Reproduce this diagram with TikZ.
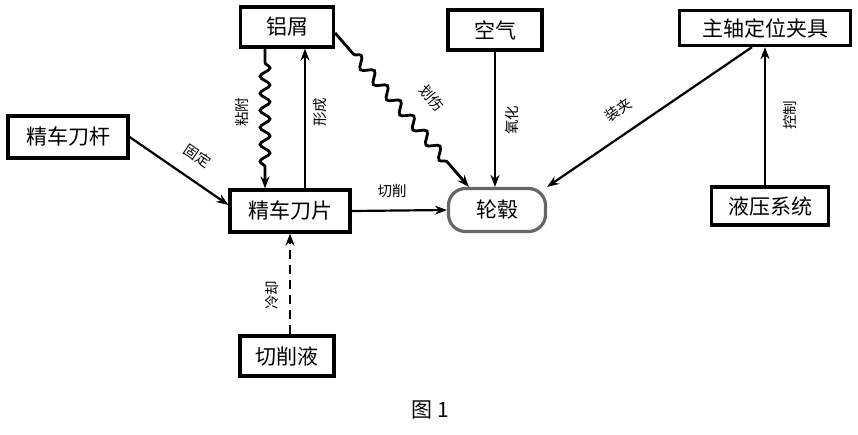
\documentclass[tikz,border=0pt]{standalone}
\usepackage{fontspec}
\newfontfamily\cjk{Noto Sans CJK SC}
\usetikzlibrary{arrows.meta,decorations.pathmorphing}
\begin{document}
\begin{tikzpicture}[x=1pt,y=-1pt,
  box/.style={draw=black,line width=3.2pt,inner sep=0pt,font=\cjk\fontsize{21}{24}\selectfont},
  lab/.style={inner sep=0pt,font=\cjk\fontsize{14.5}{16}\selectfont},
  arr/.style={line width=2.2pt,-{Stealth[length=12pt,width=9pt]}},
  wavy/.style={line width=2.8pt,-{Stealth[length=12pt,width=9pt]},decorate,
     decoration={snake,amplitude=5pt,segment length=17pt,pre length=14pt,post length=14pt}}]
\useasboundingbox (0,0) rectangle (858,434);
\node[box,minimum width=93pt,minimum height=40pt] (lx) at (287,27) {铝屑};
\node[box,minimum width=94pt,minimum height=40pt] (air) at (495,30) {空气};
\node[box,minimum width=171pt,minimum height=35pt] (main) at (765,28) {主轴定位夹具};
\node[box,minimum width=120pt,minimum height=42pt] (bar) at (68,137) {精车刀杆};
\node[box,minimum width=120pt,minimum height=42pt] (blade) at (290,211) {精车刀片};
\node[box,draw=black!60,rounded corners=17pt,minimum width=97pt,minimum height=43pt] (hub) at (497,210) {轮毂};
\node[box,minimum width=117pt,minimum height=38pt] (hyd) at (770,206) {液压系统};
\node[box,minimum width=94pt,minimum height=40pt] (cool) at (287,356) {切削液};
\node[font=\cjk\fontsize{21}{24}\selectfont] (cap) at (430,410) {图 1};

\draw[wavy] ([xshift=-22pt]lx.south) -- ([xshift=-22pt]lx.south |- blade.north);
\draw[arr] ([xshift=15pt]blade.north) -- ([xshift=15pt]blade.north |- lx.south);
\draw[wavy,decoration={segment length=20pt,pre length=28pt,post length=26pt}] ([yshift=-6pt]lx.east) -- ([xshift=22pt]hub.north west);
\draw[arr] (air.south) -- (air.south |- hub.north);
\draw[arr] ([xshift=-13pt]main.south) -- (hub.north east);
\draw[arr] ([xshift=-5pt]hyd.north) -- ([xshift=-5pt]hyd.north |- main.south);
\draw[arr] (bar.east) -- ([yshift=6pt]blade.west);
\draw[arr] (blade.east) -- (hub.west);
\draw[arr,dashed,dash pattern=on 9pt off 6pt] ([xshift=3pt]cool.north) -- ([xshift=3pt]cool.north |- blade.south);

\node[lab,rotate=90] (l1) at (242,112) {粘附};
\node[lab,rotate=90] (l2) at (320,112) {形成};
\node[lab,rotate=-50] (l3) at (432,98) {划伤};
\node[lab,rotate=90] (l4) at (512,120) {氧化};
\node[lab,rotate=-34] (l5) at (198,156) {固定};
\node[lab] (l6) at (392,191) {切削};
\node[lab,rotate=35] (l7) at (618,110) {装夹};
\node[lab,rotate=90] (l8) at (790,115) {控制};
\node[lab,rotate=90] (l9) at (272,295) {冷却};
\end{tikzpicture}
\end{document}
